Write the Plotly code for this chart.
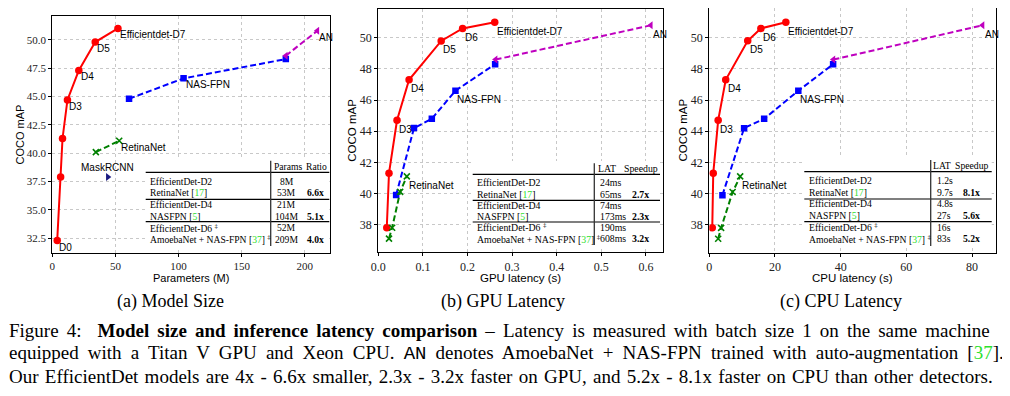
import re
import plotly.graph_objects as go

W, H = 1010, 396     # target picture size
OFF = 8              # page body margin that offsets the figure in the browser
FW, FH = W - OFF, H - OFF

# ---------------- data ----------------
# (a) model size
eff_params = [3.9, 6.6, 8.1, 12, 21, 34, 52]
eff_map_a = [32.3, 37.9, 41.3, 44.7, 47.3, 49.8, 51.0]
nas_params = [60.8, 104, 185]
nas_map_a = [44.8, 46.6, 48.3]
an_params = [185, 210]
an_map_a = [48.6, 50.8]
ret_params = [34.5, 53]
ret_map_a = [40.1, 41.1]
mask_params = [44]
mask_map = [37.9]

# (b) GPU latency (s)
eff_gpu = [0.019, 0.024, 0.042, 0.069, 0.141, 0.189, 0.261]
eff_map = [37.8, 41.3, 44.7, 47.3, 49.8, 50.6, 51.0]
nas_gpu = [0.040, 0.080, 0.120, 0.173, 0.262]
nas_map = [39.9, 44.2, 44.8, 46.6, 48.3]
ret_gpu = [0.024, 0.031, 0.049, 0.064]
ret_map = [37.1, 37.8, 40.1, 41.1]
an_gpu = [0.263, 0.611]
an_map = [48.6, 50.8]

# (c) CPU latency (s)
eff_cpu = [0.9, 1.2, 2.7, 5.0, 11.7, 15.7, 23.3]
nas_cpu = [4.0, 10.6, 16.7, 27.1, 37.7]
ret_cpu = [2.7, 3.6, 7.1, 9.4]
an_cpu = [37.8, 83.2]

# tables
tbl_rows = ["EfficientDet-D2", "RetinaNet [17]", "EfficientDet-D4", "NASFPN [5]",
            "EfficientDet-D6 ‡", "AmoebaNet + NAS-FPN [37] ‡"]
params_col = ["8M", "53M", "21M", "104M", "52M", "209M"]
ratio_col = ["", "6.6x", "", "5.1x", "", "4.0x"]
gpu_lat = ["24ms", "65ms", "74ms", "173ms", "190ms", "608ms"]
gpu_speed = ["", "2.7x", "", "2.3x", "", "3.2x"]
cpu_lat = ["1.2s", "9.7s", "4.8s", "27s", "16s", "83s"]
cpu_speed = ["", "8.1x", "", "5.6x", "", "5.2x"]

sub_titles = ["(a) Model Size", "(b) GPU Latency", "(c) CPU Latency"]
x_titles = ["Parameters (M)", "GPU latency (s)", "CPU latency (s)"]
caption = [
    "Figure 4:  <b>Model size and inference latency comparison</b> – Latency is measured with batch size 1 on the same machine",
    "equipped with a Titan V GPU and Xeon CPU. <span style='font-family:Liberation Mono'>AN</span> denotes AmoebaNet + NAS-FPN trained with auto-augmentation [<span style='color:#2ee02e'>37</span>].",
    "Our EfficientDet models are 4x - 6.6x smaller, 2.3x - 3.2x faster on GPU, and 5.2x - 8.1x faster on CPU than other detectors.",
]
caption_wordspace = [3.3, 4.4, 1.5]

# ---------------- helpers ----------------
def fx(px):
    return (px - OFF) / FW

def fy(py):
    return 1 - (py - OFF) / FH

GREEN_CITE = "#2ee02e"
SANS = "Liberation Sans, Arial, sans-serif"
SERIF = "Liberation Serif, Times New Roman, serif"

def cite(txt):
    txt = re.sub(r"\[(\d+)\]", lambda m: "[<span style='color:%s'>%s</span>]" % (GREEN_CITE, m.group(1)), txt)
    txt = txt.replace(" ‡", " <sup>‡</sup>")
    return txt

fig = go.Figure()

RED, BLUE, GREEN, MAG, NAVY = "#ff0000", "#0000ff", "#008000", "#bf00bf", "#1a1a80"
DASH = "6px,3px"

def add_series(x, y, color, symbol, msize, dash, ax):
    xa = "x" if ax == 1 else "x%d" % ax
    ya = "y" if ax == 1 else "y%d" % ax
    mk = dict(color=color, symbol=symbol, size=msize)
    if symbol == "x-thin":
        mk["line"] = dict(color=color, width=1.6)
    fig.add_trace(go.Scatter(x=x, y=y, mode="lines+markers", xaxis=xa, yaxis=ya,
                             line=dict(color=color, width=2, dash=dash),
                             marker=mk, showlegend=False, hoverinfo="skip"))

# panel a
add_series(eff_params, eff_map_a, RED, "circle", 7.5, "solid", 1)
add_series(nas_params, nas_map_a, BLUE, "square", 6.5, DASH, 1)
add_series(an_params, an_map_a, MAG, "triangle-left", 7, DASH, 1)
add_series(ret_params, ret_map_a, GREEN, "x-thin", 6, DASH, 1)
fig.add_trace(go.Scatter(x=mask_params, y=mask_map, mode="markers", xaxis="x", yaxis="y",
                         marker=dict(color=NAVY, symbol="triangle-right", size=7),
                         showlegend=False, hoverinfo="skip"))
# panel b
add_series(eff_gpu, eff_map, RED, "circle", 7.5, "solid", 2)
add_series(nas_gpu, nas_map, BLUE, "square", 6.5, DASH, 2)
add_series(an_gpu, an_map, MAG, "triangle-left", 7, DASH, 2)
add_series(ret_gpu, ret_map, GREEN, "x-thin", 6, DASH, 2)
# panel c
add_series(eff_cpu, eff_map, RED, "circle", 7.5, "solid", 3)
add_series(nas_cpu, nas_map, BLUE, "square", 6.5, DASH, 3)
add_series(an_cpu, an_map, MAG, "triangle-left", 7, DASH, 3)
add_series(ret_cpu, ret_map, GREEN, "x-thin", 6, DASH, 3)

# ---------------- axes ----------------
panels = [
    dict(xd=(52.3, 330), yd=(16, 253), xr=[0, 220], yr=[31.2, 52.1],
         xt=[0, 50, 100, 150, 200], xfmt="d", yt=[32.5, 35, 37.5, 40, 42.5, 45, 47.5, 50], yfmt=".1f", fs=11),
    dict(xd=(378.3, 663.3), yd=(9.3, 252.3), xr=[0, 0.639], yr=[36.22, 51.83],
         xt=[0, 0.1, 0.2, 0.3, 0.4, 0.5, 0.6], xfmt=".1f", yt=[38, 40, 42, 44, 46, 48, 50], yfmt="d", fs=12),
    dict(xd=(709.3, 995.7), yd=(8.3, 252.8), xr=[0, 87.2], yr=[36.2, 51.89],
         xt=[0, 20, 40, 60, 80], xfmt="d", yt=[38, 40, 42, 44, 46, 48, 50], yfmt="d", fs=12),
]
lay = {}
for i, p in enumerate(panels):
    sfx = "" if i == 0 else str(i + 1)
    common = dict(showline=True, mirror=True, linecolor="black", linewidth=1.2,
                  ticks="outside", ticklen=3, tickcolor="black", tickwidth=1,
                  showgrid=True, gridcolor="#c8c8c8", griddash="dot", gridwidth=1,
                  zeroline=False, tickfont=dict(family=SERIF, size=p["fs"], color="#222"),
                  fixedrange=True, automargin=False)
    lay["xaxis" + sfx] = dict(common, domain=[fx(p["xd"][0]), fx(p["xd"][1])], range=p["xr"],
                              tickvals=p["xt"], tickformat=p["xfmt"],
                              anchor="y" + sfx)
    lay["yaxis" + sfx] = dict(common, domain=[fy(p["yd"][1]), fy(p["yd"][0])], range=p["yr"],
                              tickvals=p["yt"], tickformat=p["yfmt"],
                              anchor="x" + sfx)

fig.update_layout(width=FW, height=FH, margin=dict(l=0, r=0, t=0, b=0, pad=0, autoexpand=False),
                  autosize=False, paper_bgcolor="white", plot_bgcolor="white", **lay)

ann = []
shapes = []

def lab(text, x, y, ax, dy, xanchor="left"):
    xa = "x" if ax == 1 else "x%d" % ax
    ya = "y" if ax == 1 else "y%d" % ax
    ann.append(dict(text=text, x=x, y=y, xref=xa, yref=ya, xanchor=xanchor, yanchor="middle",
                    yshift=dy, xshift=0, showarrow=False,
                    font=dict(family=SANS, size=10, color="black")))

# point labels panel a
for idx, t in [(0, "D0"), (3, "D3"), (4, "D4"), (5, "D5"), (6, "Efficientdet-D7")]:
    lab(t, eff_params[idx], eff_map_a[idx], 1, -6.5)
lab("NAS-FPN", nas_params[1], nas_map_a[1], 1, -6.5)
lab("AN", an_params[1], an_map_a[1], 1, -7)
lab("RetinaNet", ret_params[1], ret_map_a[1], 1, -6.5)
lab("MaskRCNN", mask_params[0], mask_map[0], 1, 10, "center")

# point labels panels b, c
for ax, xs in [(2, eff_gpu), (3, eff_cpu)]:
    for idx, t in [(2, "D3"), (3, "D4"), (4, "D5"), (5, "D6"), (6, "Efficientdet-D7")]:
        lab(t, xs[idx], eff_map[idx], ax, -9)
for ax, ns, a_, rs in [(2, nas_gpu, an_gpu, ret_gpu), (3, nas_cpu, an_cpu, ret_cpu)]:
    lab("NAS-FPN", ns[3], nas_map[3], ax, -9)
    lab("AN", a_[1], an_map[1], ax, -9.5)
    lab("RetinaNet", rs[3], ret_map[3], ax, -9)

# axis titles
for i, p in enumerate(panels):
    cx = (p["xd"][0] + p["xd"][1]) / 2
    ann.append(dict(text=x_titles[i], x=fx(cx), y=fy(278), xref="paper", yref="paper",
                    xanchor="center", yanchor="middle", showarrow=False,
                    font=dict(family=SANS, size=11.5 if i else 11, color="black")))
ytx = [20, 352, 683]
for i, p in enumerate(panels):
    cy = (p["yd"][0] + p["yd"][1]) / 2
    ann.append(dict(text="COCO mAP", x=fx(ytx[i]), y=fy(cy), xref="paper", yref="paper",
                    xanchor="center", yanchor="middle", textangle=-90, showarrow=False,
                    font=dict(family=SANS, size=11.5 if i else 11, color="black")))

# tables
tables = [
    dict(x0=145.7, x1=329.3, top=158, bot=247, head_y=166, hl=[172.3, 199.3, 221.7], vx=270.7, vy=(160.7, 246),
         row0=181.3, step=11.6, lx=147.7, c1=params_col, c1x=286.7, c1anchor="center",
         c2=ratio_col, c2x=315, heads=[("Params", 288), ("Ratio", 316.3)], fs=9.6),
    dict(x0=472.7, x1=660, top=161, bot=246, head_y=168.3, hl=[174.3, 200.3, 222], vx=594.3, vy=(163.3, 245),
         row0=183, step=11.1, lx=475, c1=gpu_lat, c1x=597.7, c1anchor="left",
         c2=gpu_speed, c2x=640.7, heads=[("LAT", 607), ("Speedup", 641)], fs=9.8),
    dict(x0=804.3, x1=991.7, top=157, bot=247, head_y=165, hl=[171.7, 199, 221.7], vx=930.7, vy=(160, 246),
         row0=180.3, step=11.7, lx=806.7, c1=cpu_lat, c1x=935, c1anchor="left",
         c2=cpu_speed, c2x=971.7, heads=[("LAT", 942), ("Speedup", 972.3)], fs=9.7),
]
for t in tables:
    TFONT = dict(family=SERIF, size=t["fs"], color="black")
    shapes.append(dict(type="rect", xref="paper", yref="paper", x0=fx(t["x0"]), x1=fx(t["x1"]),
                       y0=fy(t["bot"]), y1=fy(t["top"]), fillcolor="white", line=dict(width=0), layer="above"))
    for yy in t["hl"]:
        shapes.append(dict(type="line", xref="paper", yref="paper", x0=fx(t["x0"]), x1=fx(t["x1"]),
                           y0=fy(yy), y1=fy(yy), line=dict(color="black", width=1.2), layer="above"))
    shapes.append(dict(type="line", xref="paper", yref="paper", x0=fx(t["vx"]), x1=fx(t["vx"]),
                       y0=fy(t["vy"][0]), y1=fy(t["vy"][1]), line=dict(color="#333", width=1.3), layer="above"))
    for h, hx in t["heads"]:
        ann.append(dict(text=h, x=fx(hx), y=fy(t["head_y"]), xref="paper", yref="paper",
                        xanchor="center", yanchor="middle", showarrow=False, font=TFONT))
    for r in range(len(tbl_rows)):
        yy = t["row0"] + r * t["step"]
        ann.append(dict(text=cite(tbl_rows[r]), x=fx(t["lx"]), y=fy(yy), xref="paper", yref="paper",
                        xanchor="left", yanchor="middle", showarrow=False, font=TFONT))
        ann.append(dict(text=t["c1"][r], x=fx(t["c1x"]), y=fy(yy), xref="paper", yref="paper",
                        xanchor=t["c1anchor"], yanchor="middle", showarrow=False, font=TFONT))
        if t["c2"][r]:
            ann.append(dict(text="<b>%s</b>" % t["c2"][r], x=fx(t["c2x"]), y=fy(yy), xref="paper", yref="paper",
                            xanchor="center", yanchor="middle", showarrow=False, font=TFONT))

# sub captions
for txt, cx in zip(sub_titles, [170, 503, 841]):
    ann.append(dict(text=txt, x=fx(cx), y=fy(301), xref="paper", yref="paper", xanchor="center",
                    yanchor="middle", showarrow=False, font=dict(family=SERIF, size=18, color="black")))
# figure caption (justified look via word spacing)
for k, line in enumerate(caption):
    txt = "<span style='word-spacing:%.1fpx'>%s</span>" % (caption_wordspace[k], line)
    ann.append(dict(text=txt, x=fx(7), y=fy(330 + 23 * k), xref="paper", yref="paper", xanchor="left",
                    yanchor="middle", showarrow=False, font=dict(family=SERIF, size=19, color="black")))

fig.update_layout(annotations=ann, shapes=shapes)
fig.write_html("out.html")
